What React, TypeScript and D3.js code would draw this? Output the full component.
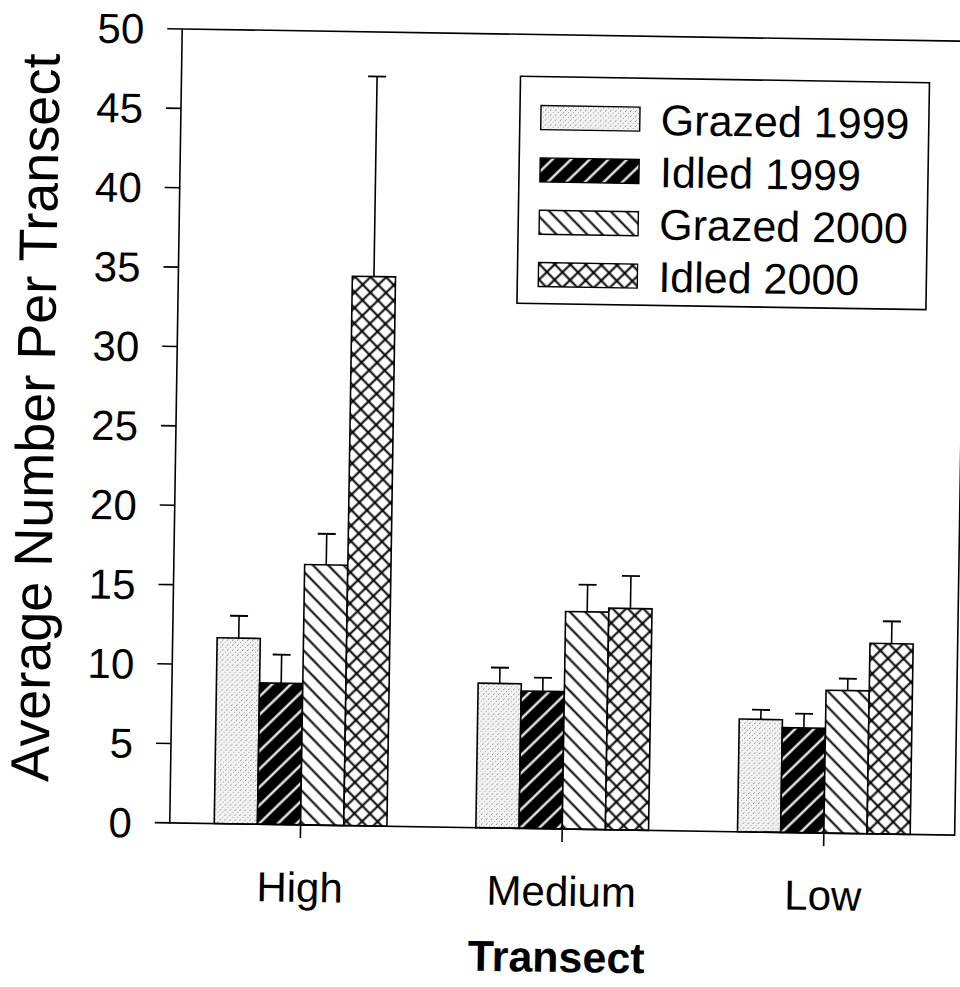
import React from "react";
import * as d3 from "d3";

const categories = ["High", "Medium", "Low"];
const seriesNames = ["Grazed 1999", "Idled 1999", "Grazed 2000", "Idled 2000"];
const grazed1999 = [11.7, 9.1, 7.1];
const idled1999 = [8.9, 8.65, 6.6];
const grazed2000 = [16.4, 13.7, 9.0];
const idled2000 = [34.6, 13.95, 12.0];
const grazed1999Err = [1.4, 1.0, 0.6];
const idled1999Err = [1.8, 0.85, 0.9];
const grazed2000Err = [1.95, 1.7, 0.75];
const idled2000Err = [12.6, 2.05, 1.4];
const yTicks = [0, 5, 10, 15, 20, 25, 30, 35, 40, 45, 50];

const seriesValues = [grazed1999, idled1999, grazed2000, idled2000];
const seriesErrors = [grazed1999Err, idled1999Err, grazed2000Err, idled2000Err];
const patternIds = ["pStipple", "pIdled99", "pGrazed00", "pIdled00"];

const FONT = "'Liberation Sans', Arial, sans-serif";

export default function App() {
  const W = 960;
  const H = 987;
  const left = 176;
  const right = 961;
  const top = 35;
  const bottom = 829;

  const y = d3.scaleLinear().domain([0, 50]).range([bottom, top]);
  const x0 = d3.scaleBand<string>().domain(categories).range([left, right]).padding(0);
  const groupW = x0.bandwidth() * 0.66;
  const x1 = d3.scaleBand<string>().domain(seriesNames).range([0, groupW]).padding(0);
  const capW = 18;

  const legendX = 515;
  const legendY = 77;
  const legendW = 409;
  const legendH = 227;
  const rowY = d3.scalePoint<string>().domain(seriesNames).range([legendY + 41, legendY + 198]);

  return (
    <svg width={W} height={H} style={{ display: "block", position: "absolute", left: 0, top: 0, background: "#fff" }}>
      <defs>
        <pattern id="pStipple" width="5" height="5" patternUnits="userSpaceOnUse">
          <rect width="5" height="5" fill="#f3f3f3" />
          <rect x="0" y="0" width="1" height="1" fill="#8a8a8a" />
          <rect x="3" y="2" width="1" height="1" fill="#a0a0a0" />
          <rect x="1" y="4" width="1" height="1" fill="#b5b5b5" />
        </pattern>
        <pattern id="pIdled99" width="13" height="13" patternUnits="userSpaceOnUse" patternTransform="rotate(45)">
          <rect width="13" height="13" fill="#000" />
          <line x1="6.5" y1="0" x2="6.5" y2="13" stroke="#fff" strokeWidth="2.2" />
        </pattern>
        <pattern id="pGrazed00" width="11" height="11" patternUnits="userSpaceOnUse" patternTransform="rotate(-45)">
          <rect width="11" height="11" fill="#fff" />
          <line x1="5.5" y1="0" x2="5.5" y2="11" stroke="#000" strokeWidth="2" />
        </pattern>
        <pattern id="pIdled00" width="11" height="11" patternUnits="userSpaceOnUse" patternTransform="rotate(45)">
          <rect width="11" height="11" fill="#fff" />
          <line x1="5.5" y1="0" x2="5.5" y2="11" stroke="#000" strokeWidth="2" />
          <line x1="0" y1="5.5" x2="11" y2="5.5" stroke="#000" strokeWidth="2" />
        </pattern>
      </defs>
      <g transform="rotate(0.9 565 428)">
        {/* bars */}
        {categories.map((c, ci) => {
          const gx = (x0(c) as number) + x0.bandwidth() / 2 - groupW / 2;
          return (
            <g key={c} transform={`translate(${gx},0)`}>
              {seriesNames.map((s, si) => {
                const v = seriesValues[si][ci];
                const e = seriesErrors[si][ci];
                const bx = x1(s) as number;
                const bw = x1.bandwidth();
                const cx = bx + bw / 2;
                return (
                  <g key={s}>
                    <line x1={cx} x2={cx} y1={y(v)} y2={y(v + e)} stroke="#000" strokeWidth={1.6} />
                    <line x1={cx - capW / 2} x2={cx + capW / 2} y1={y(v + e)} y2={y(v + e)} stroke="#000" strokeWidth={1.8} />
                    <rect x={bx} y={y(v)} width={bw} height={y(0) - y(v)} fill={`url(#${patternIds[si]})`} stroke="#000" strokeWidth={1.6} />
                  </g>
                );
              })}
            </g>
          );
        })}

        {/* frame */}
        <rect x={left} y={top} width={right - left} height={bottom - top} fill="none" stroke="#000" strokeWidth={1.6} />

        {/* y ticks */}
        {yTicks.map((t) => (
          <g key={t}>
            <line x1={left - 15} x2={left} y1={y(t)} y2={y(t)} stroke="#000" strokeWidth={1.6} />
            <text x={left - 38} y={y(t)} dy="0.36em" textAnchor="end" fontFamily={FONT} fontSize={42} fill="#000">
              {t}
            </text>
          </g>
        ))}

        {/* x ticks */}
        {categories.map((c) => {
          const cx = (x0(c) as number) + x0.bandwidth() / 2;
          return (
            <g key={c}>
              <line x1={cx} x2={cx} y1={bottom} y2={bottom + 13} stroke="#000" strokeWidth={1.6} />
              <text x={cx} y={906} textAnchor="middle" fontFamily={FONT} fontSize={42} fill="#000">
                {c}
              </text>
            </g>
          );
        })}

        {/* axis titles */}
        <text x={(left + right) / 2 - 4} y={972} textAnchor="middle" fontFamily={FONT} fontWeight="bold" fontSize={43} fill="#000">
          Transect
        </text>
        <text transform={`translate(54,426) rotate(-90)`} textAnchor="middle" fontFamily={FONT} fontSize={54} fill="#000">
          Average Number Per Transect
        </text>

        {/* legend */}
        <rect x={legendX} y={legendY} width={legendW} height={legendH} fill="#fff" stroke="#000" strokeWidth={1.6} />
        {seriesNames.map((s, si) => {
          const ry = rowY(s) as number;
          return (
            <g key={s}>
              <rect x={legendX + 21} y={ry - 12} width={99} height={24} fill={`url(#${patternIds[si]})`} stroke="#000" strokeWidth={1.4} />
              <text x={legendX + 141} y={ry} dy="0.36em" fontFamily={FONT} fontSize={43} fill="#000">
                {s}
              </text>
            </g>
          );
        })}
      </g>
    </svg>
  );
}
